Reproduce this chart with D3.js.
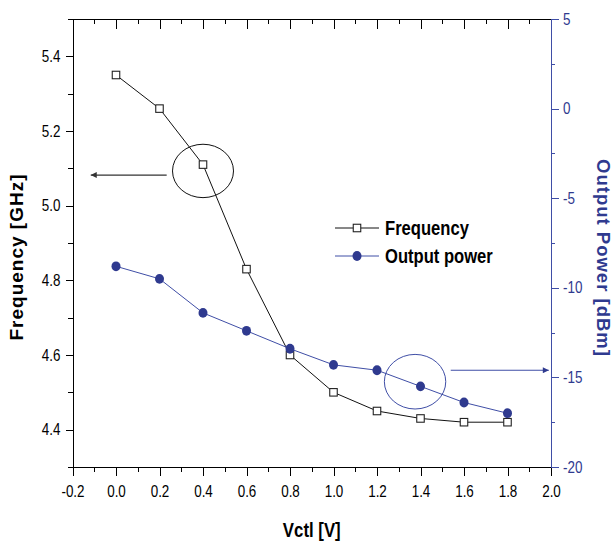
<!DOCTYPE html>
<html>
<head>
<meta charset="utf-8">
<script src="https://cdn.jsdelivr.net/npm/d3@7/dist/d3.min.js"></script>
<style>
  html, body { margin: 0; padding: 0; background: #fff; }
  svg { display: block; }
</style>
</head>
<body>
<svg id="chart" width="615" height="541"></svg>
<script>
// Control voltage sweep
const vctl = [0.0, 0.2, 0.4, 0.6, 0.8, 1.0, 1.2, 1.4, 1.6, 1.8];
// Oscillation frequency [GHz]
const frequency = [5.35, 5.26, 5.11, 4.83, 4.60, 4.50, 4.45, 4.43, 4.42, 4.42];
// Output power [dBm]
const outputPower = [-8.8, -9.5, -11.4, -12.4, -13.4, -14.3, -14.6, -15.5, -16.4, -17.0];

// Tick values and labels
const xMajor = [-0.2, 0.0, 0.2, 0.4, 0.6, 0.8, 1.0, 1.2, 1.4, 1.6, 1.8, 2.0];
const xMajorLabels = ["-0.2", "0.0", "0.2", "0.4", "0.6", "0.8", "1.0", "1.2", "1.4", "1.6", "1.8", "2.0"];
const xMinor = [-0.1, 0.1, 0.3, 0.5, 0.7, 0.9, 1.1, 1.3, 1.5, 1.7, 1.9];
const freqMajor = [4.4, 4.6, 4.8, 5.0, 5.2, 5.4];
const freqMajorLabels = ["4.4", "4.6", "4.8", "5.0", "5.2", "5.4"];
const freqMinor = [4.3, 4.5, 4.7, 4.9, 5.1, 5.3, 5.5];
const powerMajor = [-20, -15, -10, -5, 0, 5];
const powerMajorLabels = ["-20", "-15", "-10", "-5", "0", "5"];
const powerMinor = [-17.5, -12.5, -7.5, -2.5, 2.5];

// Legend entries
const legendNames = ["Frequency", "Output power"];

// Callout ellipses (data coordinates) and their arrows
const freqCallout = { x: 0.4, y: 5.093, arrowFrom: 0.233, arrowTo: -0.116, arrowY: 5.082 };
const powerCallout = { x: 1.375, y: -15.24, arrowFrom: 1.539, arrowTo: 1.99, arrowY: -14.6 };

const BLACK = "#000";
const BLUE = "#2f3a8f";
const BLUE_LINE = "#3f4ea6";
const FONT = "'Liberation Sans', Arial, sans-serif";

const svg = d3.select("#chart");

const x = d3.scaleLinear().domain([-0.2, 2.0]).range([72.5, 551]);
const yF = d3.scaleLinear().domain([4.3, 5.5]).range([467, 19]);
const yP = d3.scaleLinear().domain([-20, 5]).range([467, 19]);

const x0 = x.range()[0], x1 = x.range()[1];
const yTop = yF.range()[1], yBot = yF.range()[0];

// Narrow-looking tick labels: horizontally compressed Liberation Sans
const SQ = 0.84;
function styleTickText(g, color) {
  g.selectAll("text")
    .attr("font-family", FONT)
    .attr("font-size", 16)
    .attr("fill", color)
    .each(function () {
      const t = d3.select(this);
      const xv = +t.attr("x") || 0;
      t.attr("x", xv / SQ).attr("transform", `scale(${SQ},1)`);
    });
}
function crisp(g, color, w) {
  g.selectAll("line, .domain")
    .attr("stroke", color).attr("stroke-width", w)
    .attr("shape-rendering", "crispEdges");
}

// ---------- Axes ----------
// Bottom axis
const gBottom = svg.append("g").attr("transform", `translate(0,${yBot})`);
gBottom.call(d3.axisBottom(x).tickValues(xMinor).tickSize(5).tickFormat(""))
  .call(g => g.select(".domain").remove());
gBottom.append("g").call(
  d3.axisBottom(x).tickValues(xMajor).tickSize(8.5).tickPadding(10)
    .tickFormat((d, i) => xMajorLabels[i]).tickSizeOuter(0))
  .call(g => styleTickText(g, BLACK));
crisp(gBottom, BLACK, 1);

// Top axis (inward ticks, no labels)
const gTop = svg.append("g").attr("transform", `translate(0,${yTop})`);
gTop.call(d3.axisBottom(x).tickValues(xMinor).tickSize(5).tickFormat(""))
  .call(g => g.select(".domain").remove());
gTop.append("g").call(d3.axisBottom(x).tickValues(xMajor).tickSize(10).tickFormat("").tickSizeOuter(0));
crisp(gTop, BLACK, 1);

// Left axis (frequency)
const gLeft = svg.append("g").attr("transform", `translate(${x0},0)`);
gLeft.call(d3.axisLeft(yF).tickValues(freqMinor).tickSize(5).tickFormat(""))
  .call(g => g.select(".domain").remove());
gLeft.append("g").call(
  d3.axisLeft(yF).tickValues(freqMajor).tickSize(7).tickPadding(5)
    .tickFormat((d, i) => freqMajorLabels[i]).tickSizeOuter(0))
  .call(g => styleTickText(g, BLACK));
crisp(gLeft, BLACK, 1);

// Right axis (output power)
const gRight = svg.append("g").attr("transform", `translate(${x1},0)`);
gRight.call(d3.axisRight(yP).tickValues(powerMinor).tickSize(3.5).tickFormat(""))
  .call(g => g.select(".domain").remove());
gRight.append("g").call(
  d3.axisRight(yP).tickValues(powerMajor).tickSize(7.5).tickPadding(4.5)
    .tickFormat((d, i) => powerMajorLabels[i]).tickSizeOuter(0))
  .call(g => styleTickText(g, BLUE));
crisp(gRight, BLUE_LINE, 1);

// ---------- Axis titles ----------
svg.append("text")
  .attr("transform", `translate(23,257) rotate(-90)`)
  .attr("text-anchor", "middle")
  .attr("font-family", FONT).attr("font-weight", "bold").attr("font-size", 19)
  .attr("letter-spacing", 1)
  .attr("fill", BLACK)
  .text("Frequency [GHz]");

svg.append("text")
  .attr("transform", `translate(597,258) rotate(90)`)
  .attr("text-anchor", "middle")
  .attr("font-family", FONT).attr("font-weight", "bold").attr("font-size", 18.5)
  .attr("letter-spacing", 1)
  .attr("fill", BLUE)
  .text("Output Power [dBm]");

svg.append("text")
  .attr("transform", `translate(${(x0 + x1) / 2},537) scale(0.8,1)`)
  .attr("text-anchor", "middle")
  .attr("font-family", FONT).attr("font-weight", "bold").attr("font-size", 21)
  .attr("fill", BLACK)
  .text("Vctl [V]");

// ---------- Series ----------
const freqPts = vctl.map((v, i) => [x(v), yF(frequency[i])]);
const powPts = vctl.map((v, i) => [x(v), yP(outputPower[i])]);

svg.append("path")
  .attr("d", d3.line()(freqPts))
  .attr("fill", "none").attr("stroke", "#111").attr("stroke-width", 1);

const SQS = 7.5;
svg.append("g").selectAll("rect").data(freqPts).join("rect")
  .attr("x", d => d[0] - SQS / 2).attr("y", d => d[1] - SQS / 2)
  .attr("width", SQS).attr("height", SQS)
  .attr("fill", "#fff").attr("stroke", "#222").attr("stroke-width", 1.1);

svg.append("path")
  .attr("d", d3.line()(powPts))
  .attr("fill", "none").attr("stroke", BLUE_LINE).attr("stroke-width", 1);

svg.append("g").selectAll("ellipse").data(powPts).join("ellipse")
  .attr("cx", d => d[0]).attr("cy", d => d[1])
  .attr("rx", 4.5).attr("ry", 4.9)
  .attr("fill", BLUE);

// ---------- Callouts ----------
const defs = svg.append("defs");
function arrowHead(id, color) {
  defs.append("marker")
    .attr("id", id).attr("viewBox", "0 0 10 10")
    .attr("refX", 10).attr("refY", 5)
    .attr("markerWidth", 9).attr("markerHeight", 6)
    .attr("markerUnits", "userSpaceOnUse")
    .attr("orient", "auto")
    .append("path").attr("d", "M0,0 L10,5 L0,10 Z").attr("fill", color);
}
arrowHead("headBlack", "#333");
arrowHead("headBlue", BLUE);

svg.append("ellipse")
  .attr("cx", x(freqCallout.x)).attr("cy", yF(freqCallout.y))
  .attr("rx", 30.5).attr("ry", 26.7)
  .attr("fill", "none").attr("stroke", "#111").attr("stroke-width", 1);
svg.append("line")
  .attr("x1", x(freqCallout.arrowFrom)).attr("x2", x(freqCallout.arrowTo))
  .attr("y1", yF(freqCallout.arrowY)).attr("y2", yF(freqCallout.arrowY))
  .attr("stroke", "#333").attr("stroke-width", 1.2)
  .attr("marker-end", "url(#headBlack)");

svg.append("ellipse")
  .attr("cx", x(powerCallout.x)).attr("cy", yP(powerCallout.y))
  .attr("rx", 30.7).attr("ry", 27.3)
  .attr("fill", "none").attr("stroke", BLUE_LINE).attr("stroke-width", 1);
svg.append("line")
  .attr("x1", x(powerCallout.arrowFrom)).attr("x2", x(powerCallout.arrowTo))
  .attr("y1", yP(powerCallout.arrowY)).attr("y2", yP(powerCallout.arrowY))
  .attr("stroke", BLUE_LINE).attr("stroke-width", 1.2)
  .attr("marker-end", "url(#headBlue)");

// ---------- Legend ----------
const legend = svg.append("g").attr("transform", "translate(335,228)");
const rowGap = 28;
legendNames.forEach((name, i) => {
  const row = legend.append("g").attr("transform", `translate(0,${i * rowGap})`);
  const color = i === 0 ? "#111" : BLUE_LINE;
  row.append("line").attr("x1", 0).attr("x2", 44).attr("y1", 0).attr("y2", 0)
    .attr("stroke", color).attr("stroke-width", 1);
  if (i === 0) {
    row.append("rect").attr("x", 22 - SQS / 2).attr("y", -SQS / 2)
      .attr("width", SQS).attr("height", SQS)
      .attr("fill", "#fff").attr("stroke", "#222").attr("stroke-width", 1.1);
  } else {
    row.append("ellipse").attr("cx", 22).attr("cy", 0).attr("rx", 4.5).attr("ry", 4.9)
      .attr("fill", BLUE);
  }
  row.append("text")
    .attr("transform", `translate(50,7) scale(0.83,1)`)
    .attr("font-family", FONT).attr("font-weight", "bold").attr("font-size", 20)
    .attr("fill", BLACK)
    .text(name);
});
</script>
</body>
</html>
